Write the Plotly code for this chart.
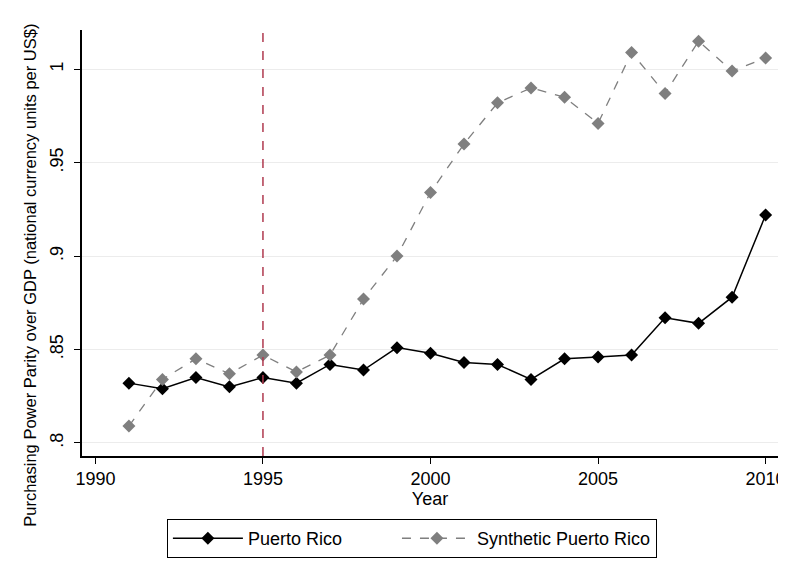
import plotly.graph_objects as go

years = list(range(1991, 2011))

puerto_rico = [0.832, 0.829, 0.835, 0.830, 0.835, 0.832, 0.842, 0.839, 0.851, 0.848,
               0.843, 0.842, 0.834, 0.845, 0.846, 0.847, 0.867, 0.864, 0.878, 0.922]

synthetic = [0.809, 0.834, 0.845, 0.837, 0.847, 0.838, 0.847, 0.877, 0.900, 0.934,
             0.960, 0.982, 0.990, 0.985, 0.971, 1.009, 0.987, 1.015, 0.999, 1.006]

y_ticks = [0.8, 0.85, 0.9, 0.95, 1.0]
y_tick_labels = [".8", ".85", ".9", ".95", "1"]
x_ticks = [1990, 1995, 2000, 2005, 2010]
treatment_year = 1995
y_title = "Purchasing Power Parity over GDP (national currency units per US$)"

pad = "\u00a0" * 10  # extra room after the first legend entry

fig = go.Figure()

fig.add_trace(go.Scatter(
    x=years, y=puerto_rico,
    mode="lines+markers",
    name="Puerto Rico" + pad,
    line=dict(color="black", width=1.5),
    marker=dict(symbol="diamond", size=10, color="black"),
))

fig.add_trace(go.Scatter(
    x=years, y=synthetic,
    mode="lines+markers",
    name="Synthetic Puerto Rico",
    line=dict(color="#7f7f7f", width=1.3, dash="dash"),
    marker=dict(symbol="diamond", size=10, color="#7f7f7f"),
))

fig.add_vline(x=treatment_year, line=dict(color="#b03a4f", width=1.5, dash="dash"))

# y title centred on the whole graph height as in Stata
fig.add_annotation(text=y_title, textangle=-90, showarrow=False,
                   xref="paper", yref="paper", x=-0.075, y=0.425,
                   xanchor="center", yanchor="middle",
                   font=dict(size=16.5))

fig.update_layout(
    width=778, height=562,
    paper_bgcolor="white",
    plot_bgcolor="white",
    font=dict(family="Arial, Liberation Sans, sans-serif", color="black", size=18),
    margin=dict(l=74, r=8, t=22, b=114, autoexpand=False),
    showlegend=True,
    legend=dict(
        orientation="h",
        x=0.474, xanchor="center",
        y=-0.148, yanchor="top",
        bordercolor="black", borderwidth=1,
        bgcolor="white",
        font=dict(size=18),
        itemwidth=70,
    ),
    xaxis=dict(
        range=[1989.6, 2010.37],
        tickvals=x_ticks,
        ticks="outside", ticklen=6, tickcolor="black",
        showline=True, linecolor="black", linewidth=1.5,
        showgrid=False, zeroline=False, automargin=False,
        title=dict(text="Year", font=dict(size=18), standoff=0),
    ),
    yaxis=dict(
        range=[0.793, 1.021],
        tickvals=y_ticks, ticktext=y_tick_labels,
        tickangle=-90,
        ticks="outside", ticklen=6, tickcolor="black",
        ticklabelstandoff=4,
        showline=True, linecolor="black", linewidth=1.5,
        showgrid=True, gridcolor="#ececec", gridwidth=1,
        zeroline=False, automargin=False,
    ),
)

fig.write_html("out.html")
